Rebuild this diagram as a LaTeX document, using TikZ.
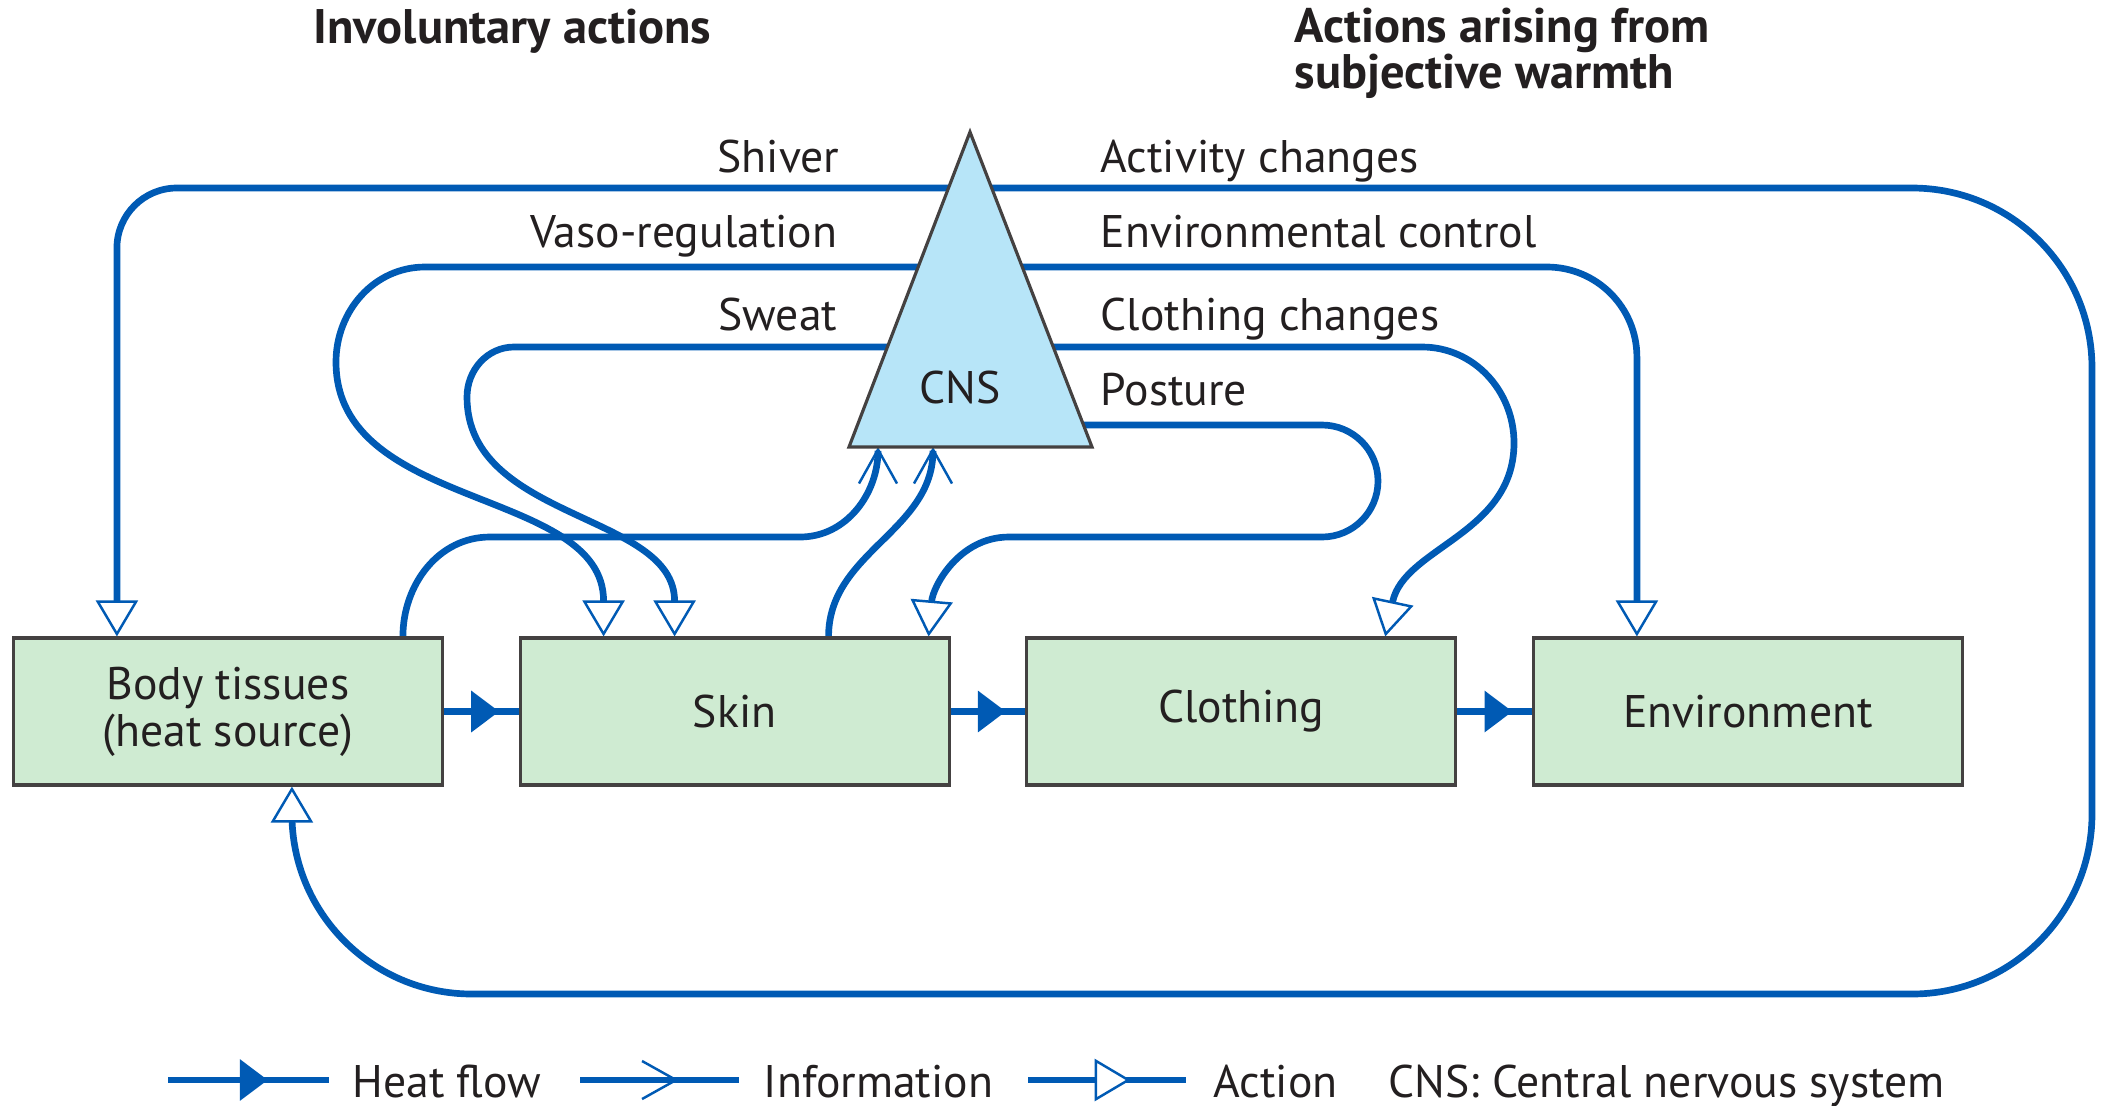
\documentclass[tikz,border=0pt]{standalone}
\usepackage{fontspec}
\setmainfont{PT Sans}
\usetikzlibrary{positioning,arrows.meta,decorations.markings}
\definecolor{flowblue}{RGB}{0,90,180}
\definecolor{tissuegreen}{RGB}{207,235,210}
\definecolor{cnsblue}{RGB}{183,229,248}
\definecolor{inkgray}{RGB}{35,31,32}
\pgfdeclarelayer{bg}
\pgfsetlayers{bg,main}
\tikzset{
  ActTip/.tip={Triangle[fill=white,length=0.36cm,width=0.42cm,line width'=0.7pt]},
  InfoTip/.tip={Straight Barb[length=0.34cm,width=0.38cm,line width'=0.7pt]},
  HeatTip/.tip={Triangle[length=0.28cm,width=0.4cm]},
}

\begin{document}
\begin{tikzpicture}[
  font=\fontsize{13}{13.4}\selectfont, text=inkgray,
  tissue/.style={draw=inkgray!85,line width=0.9pt,fill=tissuegreen,minimum width=4.29cm,minimum height=1.47cm,inner sep=0pt,align=center},
  flow/.style={flowblue,line width=1.9pt},
  act/.style={flow,-ActTip},
  info/.style={flow,-InfoTip},
  midtip/.style 2 args={postaction={decorate},decoration={markings,mark=at position #1 with {\arrow{#2}}}},
  lbl/.style={inner sep=0pt},
  head/.style={lbl,anchor=base west,font=\fontsize{13.8}{14}\selectfont\bfseries},
]
\useasboundingbox (0,0) rectangle (21.07,-11.05);

% headings
\node[head] (invhead) at (3.13,-0.43) {Involuntary actions};
\node[head,align=left] (subjhead) at (12.94,-0.88) {Actions arising from\\[-1pt]subjective warmth};

% the heat path
\node[tissue] (body) at (2.28,-7.115) {Body tissues\\(heat source)};
\node[tissue,right=0.745cm of body] (skin) {Skin};
\node[tissue,right=0.745cm of skin] (cloth) {Clothing};
\node[tissue,right=0.745cm of cloth] (env) {Environment};
\draw[flow,midtip={0.74}{HeatTip}] (body) -- (skin);
\draw[flow,midtip={0.74}{HeatTip}] (skin) -- (cloth);
\draw[flow,midtip={0.74}{HeatTip}] (cloth) -- (env);

% CNS
\coordinate (apex) at (9.70,-1.32);
\coordinate (lcorner) at (8.49,-4.47);
\coordinate (rcorner) at (10.92,-4.47);
\draw[draw=inkgray!85,line width=0.9pt,fill=cnsblue] (apex) -- (lcorner) -- (rcorner) -- cycle;
\node[lbl,anchor=base] (cns) at (9.60,-4.03) {CNS};
\coordinate (infoA) at (8.78,-4.47);
\coordinate (infoB) at (9.33,-4.47);

% labels
\node[lbl,anchor=base east] (shivlbl) at (8.40,-1.72) {Shiver};
\node[lbl,anchor=base east] (vasolbl) at (8.38,-2.47) {Vaso-regulation};
\node[lbl,anchor=base east] (sweatlbl) at (8.38,-3.30) {Sweat};
\node[lbl,anchor=base west] (actlbl) at (11.00,-1.72) {Activity changes};
\node[lbl,anchor=base west] (envlbl) at (11.00,-2.47) {Environmental control};
\node[lbl,anchor=base west] (clothlbl) at (11.00,-3.30) {Clothing changes};
\node[lbl,anchor=base west] (postlbl) at (11.00,-4.05) {Posture};

\begin{pgfonlayer}{bg}
% involuntary
\draw[act,rounded corners=0.6cm] (apex |- 0,-1.88) -| ([xshift=1.05cm]body.north west);
\draw[act] (apex |- 0,-2.67) -- (4.25,-2.67) to[out=180,in=90] (3.36,-3.62) to[out=-90,in=90] ([xshift=0.85cm]skin.north west);
\draw[act] (apex |- 0,-3.47) -- (5.14,-3.47) to[out=180,in=90] (4.67,-3.97) to[out=-90,in=90] ([xshift=1.56cm]skin.north west);
% subjective
\draw[act,rounded corners=1.8cm] (apex |- 0,-1.88) -- (20.92,-1.88) -- (20.92,-9.94) -| ([xshift=2.8cm]body.south west);
\draw[act,rounded corners=0.9cm] (apex |- 0,-2.67) -| ([xshift=1.05cm]env.north west);
\draw[act] (apex |- 0,-3.47) -- (14.22,-3.47) to[out=0,in=90] (15.14,-4.43) to[out=-90,in=78] ([xshift=3.60cm]cloth.north west);
\draw[act] (apex |- 0,-4.25) -- (13.22,-4.25) arc[start angle=90,end angle=-90,radius=0.56cm] -- (10.09,-5.37) to[out=180,in=85] ([xshift=4.10cm]skin.north west);
% information
\draw[info] ([xshift=3.91cm]body.north west) to[out=90,in=180] (4.90,-5.37) -- (8.00,-5.37) to[out=0,in=-90] (infoA);
\draw[info] ([xshift=3.10cm]skin.north west) to[out=90,in=-90] (infoB);
\end{pgfonlayer}

% legend
\draw[flow,midtip={0.62}{HeatTip}] (1.68,-10.80) -- (3.29,-10.80);
\node[lbl,anchor=base west] (lgheat) at (3.52,-10.97) {Heat flow};
\draw[flow,midtip={0.62}{InfoTip}] (5.80,-10.80) -- (7.39,-10.80);
\node[lbl,anchor=base west] (lginfo) at (7.63,-10.97) {Information};
\draw[flow,midtip={0.65}{ActTip}] (10.28,-10.80) -- (11.86,-10.80);
\node[lbl,anchor=base west] (lgact) at (12.13,-10.97) {Action};
\node[lbl,anchor=base west] (lgcns) at (13.88,-10.97) {CNS: Central nervous system};
\end{tikzpicture}
\end{document}
